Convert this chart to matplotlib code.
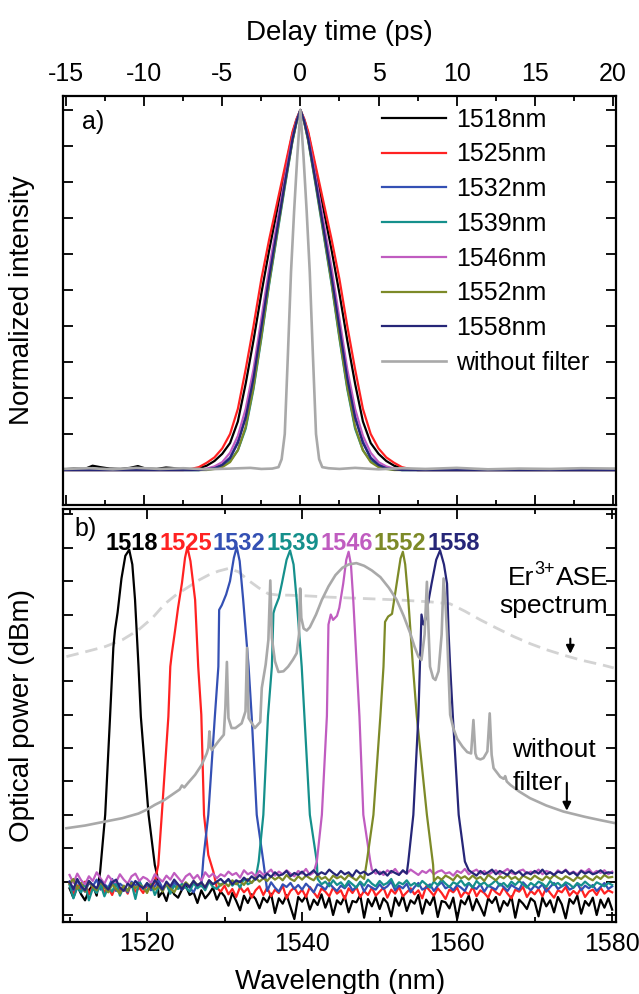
import numpy as np
import matplotlib
matplotlib.use('Agg')
import matplotlib.pyplot as plt
from matplotlib.ticker import MultipleLocator

plt.rcParams['font.family'] = ['Liberation Sans', 'DejaVu Sans']
plt.rcParams['axes.unicode_minus'] = False

# ---------------- panel a) autocorrelation traces ----------------
# half profiles vs |delay| (ps), pulses are symmetric about 0
t_half = [0, 0.25, 0.5, 1, 1.5, 2, 2.5, 3, 3.5, 4, 4.5, 5, 5.5, 6, 6.5, 7]
ac_1518 = [1, 0.972, 0.935, 0.83, 0.72, 0.61, 0.49, 0.36, 0.24, 0.135, 0.075, 0.045, 0.025, 0.012, 0.005, 0.002]
ac_1525 = [1, 0.975, 0.94, 0.84, 0.74, 0.64, 0.53, 0.40, 0.28, 0.17, 0.10, 0.06, 0.035, 0.02, 0.008, 0.003]
ac_1532 = [1, 0.968, 0.92, 0.80, 0.67, 0.54, 0.40, 0.26, 0.15, 0.08, 0.035, 0.015, 0.006, 0.002, 0, 0]
ac_1539 = [1, 0.965, 0.915, 0.785, 0.65, 0.515, 0.365, 0.225, 0.115, 0.055, 0.025, 0.011, 0.004, 0.001, 0, 0]
ac_1546 = [1, 0.97, 0.925, 0.81, 0.685, 0.56, 0.42, 0.28, 0.17, 0.095, 0.048, 0.022, 0.01, 0.004, 0.001, 0]
ac_1552 = [1, 0.965, 0.915, 0.79, 0.655, 0.52, 0.37, 0.23, 0.12, 0.055, 0.022, 0.008, 0.003, 0, 0, 0]
ac_1558 = [1, 0.968, 0.92, 0.795, 0.665, 0.535, 0.395, 0.255, 0.145, 0.075, 0.033, 0.014, 0.005, 0.002, 0, 0]

# small baseline bumps of the 1518 nm trace on the left
base_1518_t = [-15.17, -14.5, -13.8, -13.3, -12.8, -12.2, -11.5, -10.9, -10.4, -9.9, -9.2, -8.6, -8.0, -7.5]
base_1518_y = [0.002, 0.004, 0.003, 0.012, 0.008, 0.004, 0.003, 0.006, 0.011, 0.004, 0.003, 0.007, 0.005, 0.003]

# unfiltered trace
nofilt_t = [-15.17, -13.5, -12, -10.5, -9, -7.5, -6, -4.5, -3.2, -2.5, -1.8, -1.4, -1.2, -1.0, -0.8, -0.6,
            -0.4, -0.2, 0, 0.2, 0.4, 0.6, 0.8, 1.0, 1.2, 1.4, 1.8, 2.5, 3.5, 5, 6.5, 8, 10, 12, 14, 16, 18, 20.2]
nofilt_y = [0.003, 0.005, 0.002, 0.006, 0.003, 0.005, 0.002, 0.004, 0.006, 0.003, 0.004, 0.008, 0.03, 0.10,
            0.32, 0.55, 0.72, 0.87, 1.0, 0.87, 0.72, 0.55, 0.32, 0.10, 0.03, 0.008, 0.005, 0.003, 0.006,
            0.002, 0.005, 0.003, 0.006, 0.002, 0.004, 0.003, 0.005, 0.004]

names = ['1518', '1525', '1532', '1539', '1546', '1552', '1558']
colors = ['#000000', '#ff2222', '#3450b4', '#15908c', '#c05cc0', '#7d8a28', '#262678']
gray = '#a9a9a9'
ac_profiles = [ac_1518, ac_1525, ac_1532, ac_1539, ac_1546, ac_1552, ac_1558]

# ---------------- panel b) optical spectra ----------------
wl_grid = np.arange(1510, 1580.01, 0.5)  # noise floor sampled every 0.5 nm

noise_1518 = [-71.0, -72.4, -70.6, -71.9, -72.8, -71.3, -70.5, -72.1, -71.6, -73.0,
              -71.2, -70.4, -72.5, -71.7, -70.9, -72.2, -71.4, -73.1, -71.0, -71.8,
              -72.6, -71.1, -70.7, -72.3, -71.5, -72.9, -70.8, -71.9, -72.4, -71.2,
              -70.6, -72.0, -71.6, -73.2, -71.3, -72.5, -71.8, -70.9, -72.7, -71.5,
              -72.2, -73.6, -71.7, -72.9, -74.3, -72.1, -73.2, -71.9, -72.6, -74.0,
              -72.4, -73.1, -71.8, -74.7, -72.5, -73.3, -72.0, -73.8, -75.6, -72.3,
              -73.0, -72.1, -74.2, -72.7, -73.5, -71.9, -73.9, -72.4, -75.0, -72.8,
              -73.4, -72.2, -74.6, -72.9, -73.1, -72.0, -75.4, -72.6, -73.7, -72.3,
              -74.1, -72.5, -73.2, -75.2, -72.4, -73.6, -72.1, -74.4, -72.8, -73.3,
              -72.0, -74.8, -72.7, -73.5, -72.2, -75.3, -72.9, -73.1, -74.0, -72.4,
              -75.6, -72.8, -73.4, -72.1, -74.3, -72.6, -73.8, -75.1, -72.5, -73.2,
              -72.3, -74.5, -72.9, -73.6, -72.2, -75.4, -72.7, -73.3, -74.1, -72.5,
              -73.0, -75.2, -72.4, -73.7, -72.8, -74.6, -72.3, -73.4, -75.5, -72.6,
              -73.3, -72.1, -74.8, -72.9, -73.6, -72.4, -75.0, -72.7, -73.9, -72.5, -74.2]
noise_1525 = [-70.3, -71.8, -70.6, -71.2, -70.0, -71.9, -70.8, -71.4, -70.2, -71.6,
              -70.9, -72.0, -70.4, -71.3, -70.7, -71.8, -70.1, -71.5, -70.9, -71.7,
              -70.5, -71.1, -70.0, -71.9, -70.6, -71.4, -70.8, -72.1, -70.3, -71.2,
              -71.6, -70.4, -71.0, -71.8, -70.2, -71.3, -70.7, -72.0, -70.9, -71.5,
              -70.6, -71.9, -71.1, -72.3, -70.8, -71.6, -71.0, -72.4, -71.3, -70.7,
              -72.0, -70.9, -72.2, -71.2, -71.7, -70.6, -72.5, -71.4, -70.9, -71.9,
              -71.2, -72.3, -70.8, -71.6, -72.4, -71.0, -71.5, -72.2, -70.9, -71.8,
              -71.3, -72.6, -71.0, -71.7, -70.8, -72.3, -71.4, -72.0, -70.9, -72.1,
              -71.5, -70.9, -72.4, -71.2, -71.8, -70.8, -72.2, -71.6, -71.0, -71.9,
              -71.3, -72.5, -70.7, -71.4, -72.1, -71.0, -71.7, -72.6, -71.2, -71.6,
              -70.9, -72.3, -71.5, -71.9, -70.8, -72.2, -71.3, -71.7, -72.4, -71.0,
              -71.6, -72.0, -70.9, -71.8, -72.5, -71.2, -71.5, -70.8, -72.3, -71.4,
              -71.9, -71.1, -72.2, -70.9, -71.7, -72.4, -71.3, -71.6, -70.8, -72.1,
              -71.4, -71.9, -71.0, -72.3, -71.5, -71.2, -72.0, -70.9, -71.8, -71.3, -71.6]
noise_1532 = [-70.0, -71.3, -69.8, -70.9, -71.5, -70.2, -70.7, -69.7, -71.2, -70.4,
              -70.9, -69.6, -71.4, -70.3, -70.8, -71.6, -70.0, -70.6, -69.9, -71.1,
              -70.4, -71.3, -70.7, -69.8, -71.0, -70.3, -71.5, -70.1, -70.8, -71.2,
              -70.2, -70.9, -71.6, -70.4, -70.7, -71.1, -69.9, -70.6, -71.4, -70.3,
              -71.0, -70.2, -70.8, -71.5, -70.5, -70.0, -71.3, -70.7, -70.3, -71.2,
              -70.6, -71.4, -70.1, -70.9, -71.5, -70.4, -70.8, -70.2, -71.1, -70.5,
              -71.2, -70.3, -70.9, -71.6, -70.4, -70.7, -71.2, -70.2, -70.9, -71.4,
              -70.6, -71.0, -70.3, -71.3, -70.8, -70.1, -71.5, -70.5, -70.9, -71.2,
              -70.4, -71.1, -70.7, -70.0, -71.3, -70.6, -71.0, -70.3, -71.6, -70.8,
              -70.2, -71.2, -70.9, -70.4, -71.4, -70.6, -70.1, -71.0, -70.7, -71.3,
              -70.5, -70.9, -71.4, -70.2, -70.8, -71.1, -70.4, -71.5, -70.6, -70.9,
              -71.2, -70.3, -70.8, -71.4, -70.5, -70.9, -71.2, -70.1, -70.7, -71.3,
              -70.6, -71.0, -70.4, -71.5, -70.8, -70.2, -71.1, -70.7, -70.4, -71.2,
              -70.9, -70.3, -71.3, -70.6, -71.0, -70.5, -71.4, -70.8, -70.2, -71.1, -70.7]
noise_1539 = [-70.5, -72.5, -70.9, -71.6, -70.2, -72.8, -71.0, -71.7, -70.4, -72.2,
              -70.8, -71.5, -70.1, -72.1, -70.7, -71.3, -70.3, -72.6, -70.0, -71.0,
              -71.4, -70.2, -72.0, -70.8, -71.2, -70.4, -71.8, -70.6, -71.1, -70.3,
              -70.9, -71.5, -70.2, -71.0, -70.5, -71.3, -70.0, -70.8, -71.1, -70.4,
              -70.2, -69.7, -70.6, -70.0, -70.9, -69.5, -70.4, -70.1, -69.6, -70.5,
              -70.0, -70.8, -69.5, -70.3, -69.8, -70.7, -70.2, -69.6, -70.5, -69.9,
              -70.6, -69.8, -70.3, -70.9, -69.6, -70.4, -70.0, -70.7, -69.8, -70.5,
              -70.1, -70.8, -69.9, -70.4, -70.9, -70.0, -70.6, -69.7, -70.3, -70.7,
              -69.9, -70.5, -70.2, -69.6, -70.8, -70.1, -70.4, -69.8, -70.6, -70.2,
              -70.7, -69.9, -70.4, -70.9, -70.0, -70.5, -69.7, -70.3, -70.8, -70.1,
              -70.4, -69.8, -70.6, -70.2, -70.9, -69.9, -70.5, -70.1, -70.7, -70.3,
              -69.8, -70.6, -70.2, -70.8, -70.0, -70.5, -69.9, -70.4, -70.9, -70.2,
              -70.6, -70.0, -70.3, -70.8, -69.9, -70.5, -70.2, -70.7, -70.1, -70.4,
              -70.9, -70.2, -70.6, -70.0, -70.5, -70.8, -70.1, -70.4, -70.7, -70.2, -70.5]
noise_1546 = [-69.0, -70.2, -68.8, -69.8, -70.4, -69.2, -69.9, -68.6, -69.5, -70.3,
              -69.1, -69.8, -70.1, -68.9, -69.7, -70.3, -69.2, -68.8, -69.9, -69.3,
              -69.6, -70.2, -68.9, -69.5, -70.0, -69.1, -69.7, -68.7, -69.4, -70.1,
              -69.2, -68.8, -69.6, -69.0, -69.9, -68.6, -69.3, -68.8, -69.5, -68.9,
              -69.2, -68.5, -69.0, -68.7, -69.4, -68.3, -68.9, -68.6, -69.2, -68.4,
              -69.0, -68.7, -68.2, -69.1, -68.5, -68.9, -68.3, -68.8, -69.2, -68.4,
              -68.8, -68.1, -69.0, -68.6, -68.3, -69.1, -68.5, -68.8, -68.2, -68.9,
              -68.4, -68.8, -68.1, -69.0, -68.5, -68.3, -68.9, -68.6, -68.2, -68.8,
              -68.5, -69.0, -68.3, -68.7, -68.1, -68.9, -68.4, -68.8, -68.2, -68.6,
              -69.0, -68.4, -68.7, -68.2, -68.9, -68.5, -68.3, -68.8, -68.6, -69.1,
              -68.4, -68.7, -68.1, -68.9, -68.5, -68.2, -68.8, -68.4, -69.0, -68.6,
              -68.3, -68.9, -68.5, -68.1, -68.7, -68.9, -68.4, -68.2, -68.8, -68.5,
              -68.7, -68.2, -68.9, -68.4, -68.6, -69.0, -68.3, -68.7, -68.2, -68.8,
              -68.5, -68.9, -68.3, -68.6, -68.1, -68.8, -68.4, -68.7, -68.3, -68.9, -68.5]
noise_1552 = [-70.3, -69.6, -71.1, -70.2, -71.5, -69.9, -70.8, -71.3, -70.0, -70.9,
              -71.6, -70.4, -71.1, -71.8, -70.6, -71.4, -70.2, -71.0, -70.5, -70.8,
              -71.7, -70.4, -71.2, -70.6, -71.5, -70.3, -71.0, -71.6, -70.5, -70.9,
              -70.1, -70.7, -69.9, -70.5, -70.2, -70.8, -69.8, -70.4, -70.0, -70.6,
              -70.1, -70.7, -69.8, -70.4, -69.9, -70.5, -69.6, -70.2, -69.4, -70.0,
              -69.5, -69.9, -69.2, -69.7, -69.3, -69.8, -69.0, -69.6, -69.9, -69.2,
              -69.7, -69.1, -69.5, -69.8, -69.0, -69.6, -69.3, -69.9, -69.1, -69.5,
              -69.2, -69.7, -69.0, -69.4, -69.8, -69.1, -69.6, -69.3, -69.0, -69.5,
              -69.8, -69.2, -69.6, -69.0, -69.4, -69.7, -69.1, -69.5, -69.3, -69.8,
              -69.2, -69.6, -69.0, -69.5, -69.9, -69.3, -69.7, -69.1, -69.4, -69.8,
              -69.0, -69.5, -69.2, -69.7, -69.1, -69.6, -69.3, -69.9, -69.0, -69.4,
              -69.8, -69.2, -69.5, -69.0, -69.6, -69.3, -69.8, -69.1, -69.4, -69.7,
              -69.1, -69.5, -69.8, -69.2, -69.6, -69.0, -69.4, -69.7, -69.2, -69.5,
              -69.9, -69.3, -69.6, -69.1, -69.5, -69.8, -69.2, -69.6, -69.0, -69.4, -69.3]
noise_1558 = [-70.0, -71.1, -69.6, -70.7, -71.3, -69.9, -70.5, -71.0, -69.8, -70.6,
              -71.2, -70.1, -69.7, -70.9, -71.4, -70.3, -70.8, -69.9, -70.6, -71.0,
              -70.2, -70.9, -69.8, -70.5, -71.2, -70.0, -70.7, -69.7, -70.4, -71.1,
              -70.3, -70.8, -69.9, -70.6, -70.1, -70.9, -69.8, -70.4, -70.0, -69.6,
              -70.2, -69.6, -70.4, -69.8, -70.1, -69.4, -69.9, -69.2, -69.7, -69.0,
              -69.5, -68.8, -69.3, -68.6, -69.1, -68.9, -68.4, -69.2, -68.7, -69.0,
              -68.5, -69.1, -68.8, -68.3, -69.0, -68.6, -68.9, -68.2, -68.7, -69.1,
              -68.4, -68.9, -68.6, -69.2, -68.3, -68.8, -68.5, -69.0, -68.7, -68.2,
              -68.9, -68.5, -69.1, -68.4, -68.7, -69.0, -68.3, -68.8, -68.6, -69.1,
              -68.5, -68.9, -68.2, -68.7, -69.0, -68.4, -68.8, -68.6, -69.2, -68.3,
              -68.8, -68.5, -69.0, -68.3, -68.7, -69.1, -68.4, -68.9, -68.6, -68.2,
              -68.9, -68.4, -68.7, -69.0, -68.3, -68.8, -68.5, -69.1, -68.6, -68.9,
              -68.4, -68.8, -68.2, -68.9, -68.6, -69.0, -68.5, -68.7, -68.3, -68.9,
              -68.6, -69.1, -68.4, -68.8, -68.5, -68.9, -68.7, -68.3, -68.8, -68.6, -68.7]

# filter pass bands (wavelength nm, power dBm)
pk_1518_wl = [1513.95, 1514.6, 1515.2, 1515.65, 1515.87, 1516.2, 1516.7, 1517.2, 1517.7, 1518.1, 1518.45, 1518.9, 1519.2, 1520.2, 1521.0, 1521.3]
pk_1518_db = [-68.5, -60.0, -46.0, -35.0, -32.3, -29.7, -24.6, -21.2, -20.3, -22.5, -27.8, -37.8, -45.3, -60.0, -67.5, -69.0]
pk_1525_wl = [1521.45, 1521.9, 1522.75, 1523.0, 1523.2, 1523.6, 1524.0, 1524.5, 1524.9, 1525.2, 1525.6, 1526.2, 1526.6, 1527.0, 1527.35, 1527.9, 1528.55]
pk_1525_db = [-67.5, -60.0, -45.3, -37.8, -35.8, -32.5, -29.0, -25.3, -21.5, -19.9, -22.0, -27.8, -37.8, -45.0, -60.0, -66.0, -68.5]
pk_1532_wl = [1527.27, 1527.9, 1528.75, 1529.2, 1529.3, 1529.64, 1530.2, 1530.7, 1531.2, 1531.57, 1531.95, 1532.4, 1533.1, 1533.5, 1534.15, 1535.0]
pk_1532_db = [-66.5, -60.0, -45.2, -37.8, -29.3, -28.6, -27.0, -25.0, -21.5, -19.9, -22.0, -27.8, -37.8, -45.3, -60.0, -67.0]
pk_1539_wl = [1534.4, 1535.0, 1535.6, 1536.1, 1536.3, 1536.5, 1537.0, 1537.4, 1538.0, 1538.45, 1538.9, 1539.3, 1539.95, 1540.3, 1541.0, 1541.9]
pk_1539_db = [-67.0, -60.0, -45.2, -37.8, -29.8, -29.0, -27.5, -25.3, -21.8, -20.4, -22.5, -27.8, -37.8, -45.3, -60.0, -67.0]
pk_1546_wl = [1541.9, 1542.55, 1543.2, 1543.4, 1543.7, 1544.0, 1544.5, 1544.8, 1545.3, 1545.7, 1546.0, 1546.3, 1546.6, 1547.05, 1547.4, 1547.9, 1548.8]
pk_1546_db = [-67.0, -60.0, -45.2, -31.5, -30.0, -30.8, -30.2, -29.0, -25.4, -21.8, -20.6, -22.5, -27.8, -37.8, -45.3, -60.0, -67.0]
pk_1552_wl = [1548.35, 1549.2, 1550.1, 1550.5, 1550.7, 1551.1, 1551.6, 1552.2, 1552.7, 1553.0, 1553.3, 1553.7, 1554.3, 1554.8, 1556.1, 1556.9]
pk_1552_db = [-67.0, -60.0, -45.2, -37.8, -31.1, -30.3, -29.9, -25.4, -21.6, -20.6, -22.5, -27.8, -37.8, -45.3, -60.0, -67.5]
pk_1558_wl = [1553.7, 1554.35, 1555.0, 1555.2, 1555.4, 1555.65, 1556.0, 1556.1, 1556.7, 1557.3, 1557.8, 1558.3, 1558.7, 1558.9, 1559.1, 1559.45, 1560.2, 1561.0]
pk_1558_db = [-67.0, -60.0, -45.2, -37.8, -30.0, -31.5, -30.5, -29.3, -25.4, -21.8, -20.4, -22.5, -25.4, -32.8, -37.8, -45.3, -60.0, -67.0]

noises = [noise_1518, noise_1525, noise_1532, noise_1539, noise_1546, noise_1552, noise_1558]
peaks_wl = [pk_1518_wl, pk_1525_wl, pk_1532_wl, pk_1539_wl, pk_1546_wl, pk_1552_wl, pk_1558_wl]
peaks_db = [pk_1518_db, pk_1525_db, pk_1532_db, pk_1539_db, pk_1546_db, pk_1552_db, pk_1558_db]

# spectrum without filter
nof_wl = [1509.6, 1512, 1514.6, 1516.8, 1518.9, 1520, 1521.0, 1522.2, 1523.2, 1524.2, 1524.5, 1524.8, 1525.3,
          1526.2, 1527.05, 1527.7, 1527.9, 1528.05, 1528.2, 1528.35, 1529.2, 1529.9, 1530.1, 1530.3, 1530.5,
          1530.9, 1531.4, 1532.2, 1532.7, 1532.9, 1533.1, 1533.9, 1534.6, 1534.8, 1535.3, 1535.65, 1535.9,
          1536.1, 1536.5, 1536.95, 1537.6, 1538.2, 1538.8, 1539.3, 1539.6, 1539.75, 1539.9, 1540.2, 1540.6,
          1541.0, 1541.8, 1542.55, 1543.4, 1544.3, 1545.2, 1546.0, 1547.0, 1548.0, 1549.0, 1550.1, 1551.2,
          1552.2, 1553.1, 1553.95, 1554.5, 1555.0, 1555.4, 1555.8, 1556.1, 1556.3, 1556.5, 1556.9, 1557.2,
          1557.6, 1558.0, 1558.25, 1558.5, 1558.7, 1559.1, 1559.5, 1560.0, 1560.7, 1561.3, 1561.8, 1562.1,
          1562.35, 1562.55, 1563.0, 1563.4, 1563.9, 1564.2, 1564.45, 1564.7, 1565.55, 1566.0, 1566.2, 1566.4,
          1566.85, 1568.0, 1569.4, 1571.5, 1573.7, 1576.5, 1578.5, 1580.2]
nof_db = [-62.0, -61.6, -61.0, -60.5, -59.8, -59.2, -58.5, -57.8, -57.0, -56.2, -55.6, -55.9, -55.2,
          -54.0, -52.5, -50.8, -50.0, -47.5, -49.8, -50.3, -49.0, -48.0, -44.0, -37.1, -45.5,
          -47.0, -47.0, -46.3, -44.5, -35.0, -45.5, -47.0, -46.1, -41.0, -37.5, -33.8, -24.9,
          -33.5, -37.0, -38.6, -38.5, -37.8, -36.8, -35.8, -33.0, -26.1, -30.5, -32.1, -32.4,
          -31.9, -30.0, -27.8, -25.8, -24.1, -23.0, -22.5, -22.3, -22.7, -23.4, -24.4, -26.0,
          -27.8, -30.2, -32.8, -34.8, -36.3, -36.8, -33.0, -25.1, -32.0, -37.8, -39.5, -39.8,
          -38.5, -33.0, -24.6, -28.5, -32.8, -45.0, -47.0, -48.6, -49.8, -50.6, -50.8, -45.8,
          -50.8, -51.5, -51.7, -51.5, -50.5, -44.8, -51.0, -53.0, -54.3, -54.6, -54.2, -55.0,
          -55.5, -56.5, -57.5, -58.6, -59.5, -60.3, -60.8, -61.2]

# Er3+ ASE spectrum (dashed)
ase_wl = [1509.6, 1512, 1514.6, 1516.8, 1518.9, 1520.7, 1522.3, 1523.8, 1525.3, 1526.6, 1527.9, 1529.2,
          1530.5, 1531.8, 1533.1, 1534.4, 1535.65, 1537, 1538.2, 1540.5, 1543.6, 1547.9, 1552.2, 1556.5,
          1559.1, 1561, 1563.0, 1565.2, 1567.3, 1569.5, 1571.6, 1573.8, 1575.9, 1578.9, 1580.2]
ase_db = [-36.3, -35.6, -34.8, -33.8, -32.3, -30.5, -28.4, -27.0, -25.9, -24.9, -24.1, -23.5,
          -23.1, -23.6, -24.9, -26.0, -26.9, -27.1, -27.1, -27.2, -27.4, -27.6, -27.8, -28.1,
          -28.4, -29.5, -30.8, -32.1, -33.3, -34.4, -35.3, -36.1, -36.8, -37.6, -38.0]

label_x = [1518.04, 1524.96, 1531.88, 1538.79, 1545.71, 1552.63, 1559.54]

# ---------------- figure ----------------
fig = plt.figure(figsize=(6.39, 9.94), dpi=100)
ax1 = fig.add_axes([0.0991, 0.4920, 0.8650, 0.4115])
ax2 = fig.add_axes([0.0991, 0.0724, 0.8650, 0.4155])

lw = 1.6
th = np.array(t_half)
for name, col, prof in zip(names, colors, ac_profiles):
    v = np.array(prof)
    t = np.r_[-th[::-1], th[1:]]
    y = np.r_[v[::-1], v[1:]]
    if name == '1518':
        t = np.r_[base_1518_t, t, 7.5, 20.2]
        y = np.r_[base_1518_y, y, 0, 0]
    else:
        t = np.r_[-15.17, -7.5, t, 7.5, 20.2]
        y = np.r_[0, 0, y, 0, 0]
    ax1.plot(t, y, color=col, lw=lw, label=name + 'nm')
ax1.plot(nofilt_t, nofilt_y, color=gray, lw=lw + 0.3, label='without filter')

ax1.set_xlim(-15.17, 20.2)
ax1.set_ylim(-0.097, 1.039)
ax1.xaxis.set_major_locator(MultipleLocator(5))
ax1.xaxis.set_minor_locator(MultipleLocator(2.5))
ax1.yaxis.set_major_locator(MultipleLocator(0.1))
ax1.tick_params(axis='x', which='both', direction='in', top=True, bottom=True,
                labeltop=True, labelbottom=False, labelsize=18, pad=7)
ax1.tick_params(axis='y', which='both', direction='in', left=True, right=True, labelleft=False)
ax1.set_xlabel('Delay time (ps)', fontsize=20)
ax1.xaxis.set_label_position('top')
ax1.xaxis.set_label_coords(0.5, 1.154)
ax1.xaxis.label.set_va('center')
ax1.set_ylabel('Normalized intensity', fontsize=20)
ax1.yaxis.set_label_coords(-0.0747, 0.5)
ax1.yaxis.label.set_va('center')
ax1.text(0.034, 0.936, 'a)', transform=ax1.transAxes, ha='left', va='center', fontsize=18)
ax1.legend(loc='upper left', bbox_to_anchor=(0.576, 0.9714), frameon=False, fontsize=18,
           handlelength=2.57, handletextpad=0.4, labelspacing=0.43, borderpad=0, borderaxespad=0)

# bottom panel
ax2.plot(ase_wl, ase_db, color='#d3d3d3', lw=2.0, dashes=(4.5, 2.5))
for name, col, fl, pw, pd in zip(names, colors, noises, peaks_wl, peaks_db):
    fl = np.array(fl)
    left = wl_grid < pw[0]
    right = wl_grid > pw[-1]
    x = np.r_[wl_grid[left], pw, wl_grid[right]]
    y = np.r_[fl[left], pd, fl[right]]
    ax2.plot(x, y, color=col, lw=1.6)
ax2.plot(nof_wl, nof_db, color=gray, lw=1.9)

for name, col, lx in zip(names, colors, label_x):
    ax2.text(lx, -19.3, name, color=col, fontsize=17, fontweight='bold', ha='center', va='center')

# "Er3+ASE" built from pieces so the superscript sits tight
ax2.text(1579.5, -25.6, 'ASE', fontsize=19, ha='right', va='baseline')
ax2.annotate('3+', xy=(1579.5, -25.6), xytext=(-38.5, 8), textcoords='offset points',
             fontsize=13, ha='right', va='baseline')
ax2.annotate('Er', xy=(1579.5, -25.6), xytext=(-53.5, 0), textcoords='offset points',
             fontsize=19, ha='right', va='baseline')
ax2.text(1579.5, -29.75, 'spectrum', fontsize=19, ha='right', va='baseline')
ax2.annotate('', xy=(1574.6, -36.3), xytext=(1574.6, -33.2),
             arrowprops=dict(arrowstyle='-|>', color='k', lw=1.5, mutation_scale=12))
ax2.text(1567.1, -51.3, 'without', fontsize=19, ha='left', va='baseline')
ax2.text(1567.1, -56.3, 'filter', fontsize=19, ha='left', va='baseline')
ax2.annotate('', xy=(1574.15, -59.8), xytext=(1574.15, -54.8),
             arrowprops=dict(arrowstyle='-|>', color='k', lw=1.5, mutation_scale=12))
ax2.text(0.021, 0.952, 'b)', transform=ax2.transAxes, ha='left', va='center', fontsize=18)

ax2.set_xlim(1509.2, 1580.5)
ax2.set_ylim(-76.05, -14.2)
ax2.xaxis.set_major_locator(MultipleLocator(20))
ax2.xaxis.set_minor_locator(MultipleLocator(10))
ax2.yaxis.set_major_locator(MultipleLocator(5))
ax2.tick_params(axis='x', which='both', direction='in', top=True, bottom=True,
                labelbottom=True, labelsize=18, pad=7)
ax2.tick_params(axis='y', which='both', direction='in', left=True, right=True, labelleft=False)
ax2.set_xlabel('Wavelength (nm)', fontsize=20)
ax2.xaxis.set_label_coords(0.5, -0.145)
ax2.xaxis.label.set_va('center')
ax2.set_ylabel('Optical power (dBm)', fontsize=20)
ax2.yaxis.set_label_coords(-0.0747, 0.5)
ax2.yaxis.label.set_va('center')

for ax in (ax1, ax2):
    for s in ax.spines.values():
        s.set_linewidth(1.6)
    ax.tick_params(which='major', length=7, width=1.3)
    ax.tick_params(which='minor', length=3.5, width=1.3)

fig.savefig('out.png', dpi=100)
